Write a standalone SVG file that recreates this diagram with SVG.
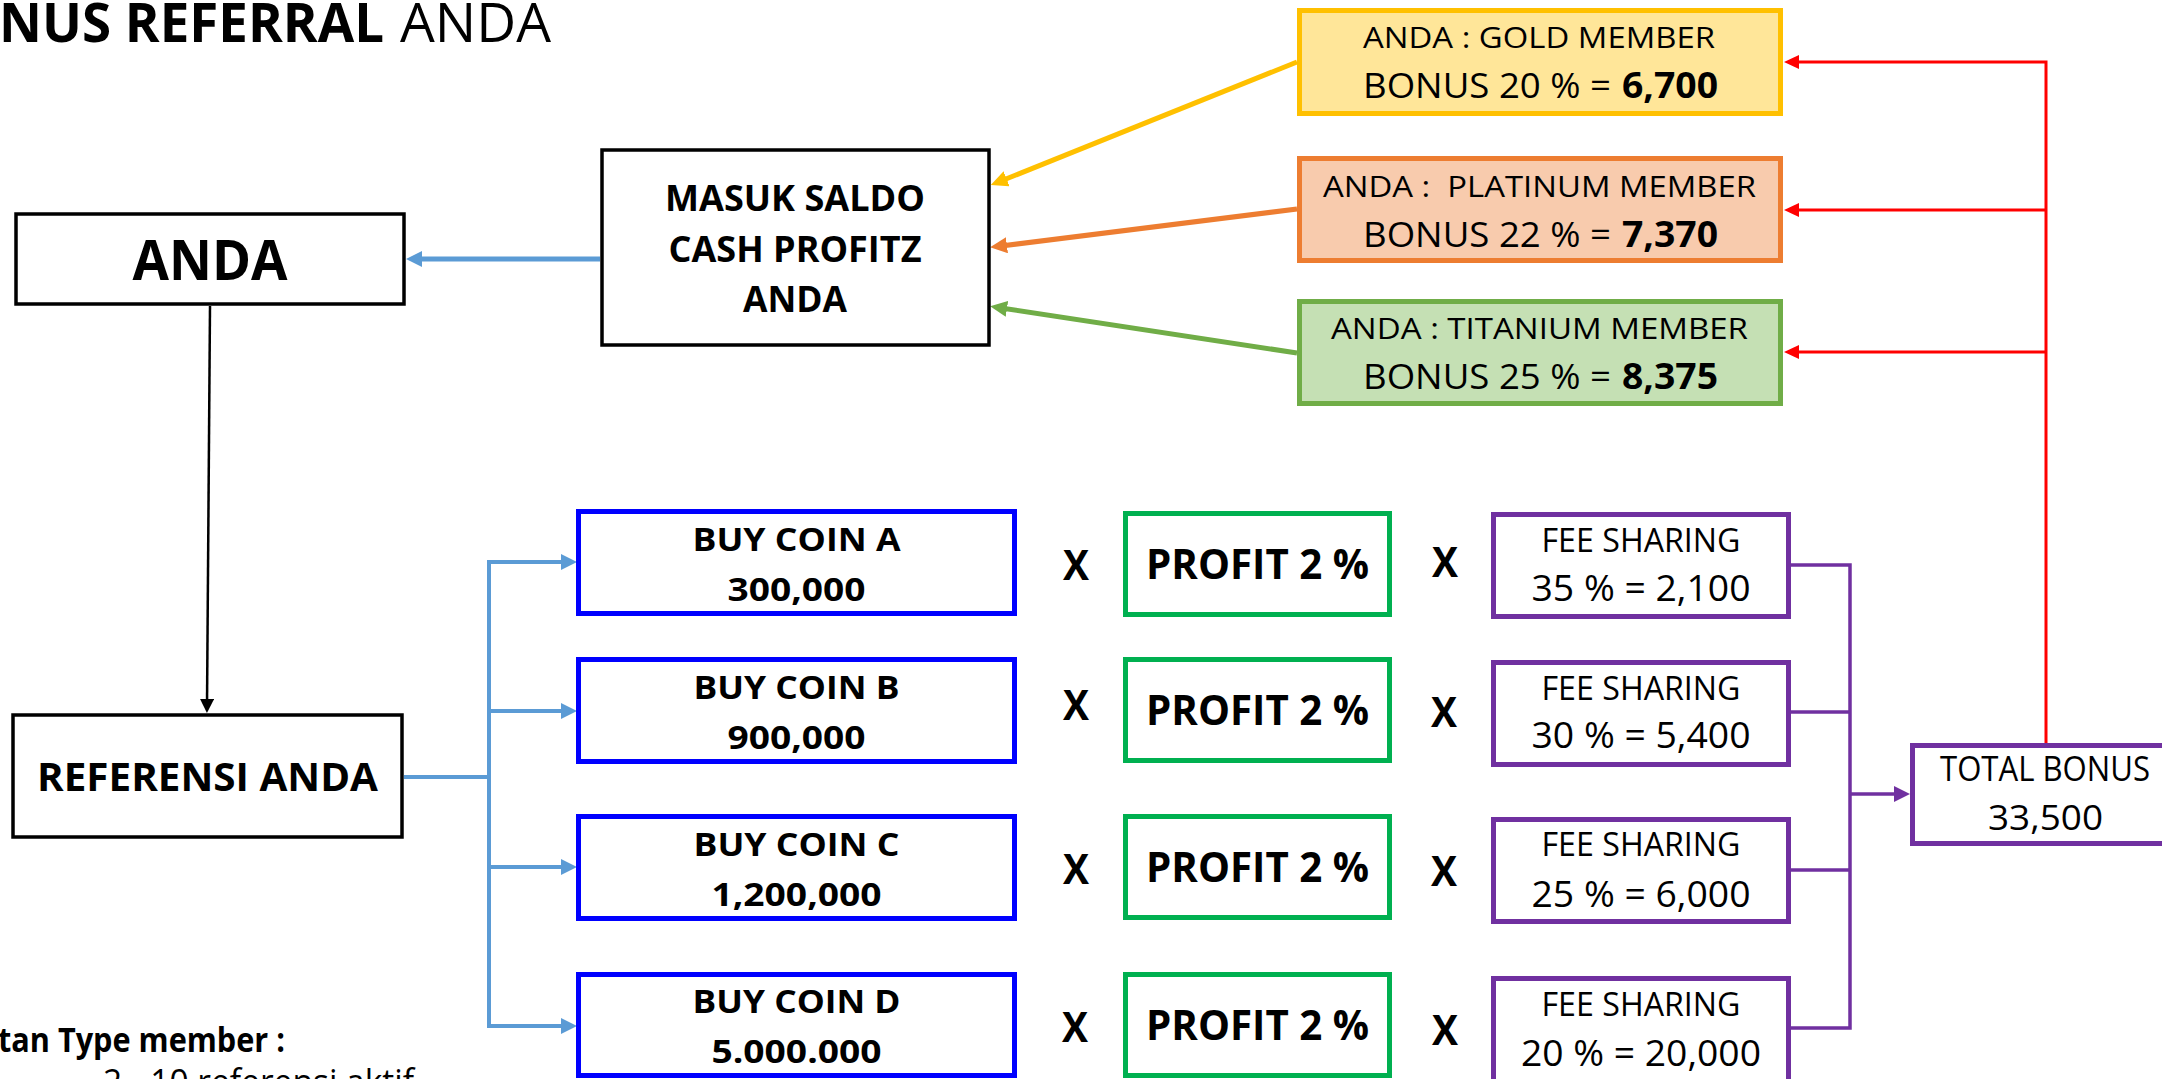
<svg xmlns="http://www.w3.org/2000/svg" width="2162" height="1079" viewBox="0 0 2162 1079">
<style>
text{font-family:"Open Sans","Liberation Sans",sans-serif;fill:#000}
.b{font-weight:700}
.r{font-weight:400}
.m{text-anchor:middle}
.bx{fill:#fff;stroke:#000;stroke-width:3.5}
.coin{fill:#fff;stroke:#0000FF;stroke-width:5}
.prof{fill:#fff;stroke:#00B050;stroke-width:5}
.fee{fill:#fff;stroke:#7030A0;stroke-width:5}
.blue{stroke:#5B9BD5;fill:none}
.red{stroke:#FF0000;stroke-width:3;fill:none}
.pur{stroke:#7030A0;stroke-width:3.5;fill:none}
</style>
<defs>
<marker id="aBlue" markerUnits="userSpaceOnUse" markerWidth="16" markerHeight="18" refX="6" refY="8" orient="auto"><path d="M0,0 L16,8 L0,16 z" fill="#5B9BD5"/></marker>
<marker id="aBlack" markerUnits="userSpaceOnUse" markerWidth="14" markerHeight="16" refX="6" refY="7" orient="auto"><path d="M0,0 L14,7 L0,14 z" fill="#000"/></marker>
<marker id="aRed" markerUnits="userSpaceOnUse" markerWidth="16" markerHeight="16" refX="6" refY="7" orient="auto"><path d="M0,0 L15,7 L0,14 z" fill="#FF0000"/></marker>
<marker id="aPur" markerUnits="userSpaceOnUse" markerWidth="16" markerHeight="18" refX="6" refY="8" orient="auto"><path d="M0,0 L16,8 L0,16 z" fill="#7030A0"/></marker>
<marker id="aYel" markerUnits="userSpaceOnUse" markerWidth="18" markerHeight="18" refX="6" refY="8" orient="auto"><path d="M0,0 L17,8 L0,16 z" fill="#FFC000"/></marker>
<marker id="aOra" markerUnits="userSpaceOnUse" markerWidth="18" markerHeight="18" refX="6" refY="8" orient="auto"><path d="M0,0 L17,8 L0,16 z" fill="#ED7D31"/></marker>
<marker id="aGrn" markerUnits="userSpaceOnUse" markerWidth="18" markerHeight="18" refX="6" refY="8" orient="auto"><path d="M0,0 L17,8 L0,16 z" fill="#70AD47"/></marker>
</defs>

<g id="title">
<text y="42" font-size="54"><tspan class="b" x="-1" textLength="385" lengthAdjust="spacingAndGlyphs">NUS REFERRAL</tspan><tspan class="r" x="400" textLength="151" lengthAdjust="spacingAndGlyphs">ANDA</tspan></text>
</g>

<g id="connectors">
<line class="blue" stroke-width="5" x1="600" y1="259" x2="416" y2="259" marker-end="url(#aBlue)"/>
<line stroke="#000" stroke-width="2.5" x1="210" y1="306" x2="207" y2="705" marker-end="url(#aBlack)"/>
<polyline class="blue" stroke-width="4" points="404,777 489,777"/>
<line class="blue" stroke-width="4" x1="489" y1="560" x2="489" y2="1028"/>
<line class="blue" stroke-width="4" x1="489" y1="562" x2="567" y2="562" marker-end="url(#aBlue)"/>
<line class="blue" stroke-width="4" x1="489" y1="711" x2="567" y2="711" marker-end="url(#aBlue)"/>
<line class="blue" stroke-width="4" x1="489" y1="867" x2="567" y2="867" marker-end="url(#aBlue)"/>
<line class="blue" stroke-width="4" x1="489" y1="1026" x2="567" y2="1026" marker-end="url(#aBlue)"/>
<line stroke="#FFC000" stroke-width="5" x1="1297" y1="62" x2="1001" y2="181" marker-end="url(#aYel)"/>
<line stroke="#ED7D31" stroke-width="5" x1="1297" y1="209" x2="1001" y2="246" marker-end="url(#aOra)"/>
<line stroke="#70AD47" stroke-width="5" x1="1297" y1="353" x2="1001" y2="308" marker-end="url(#aGrn)"/>
<polyline class="red" points="2046,743 2046,62 1793,62" marker-end="url(#aRed)"/>
<line class="red" x1="2046" y1="210" x2="1793" y2="210" marker-end="url(#aRed)"/>
<line class="red" x1="2046" y1="352" x2="1793" y2="352" marker-end="url(#aRed)"/>
<polyline class="pur" points="1791,565 1850,565 1850,1028 1791,1028"/>
<line class="pur" x1="1791" y1="712" x2="1850" y2="712"/>
<line class="pur" x1="1791" y1="870" x2="1850" y2="870"/>
<line class="pur" x1="1850" y1="794" x2="1900" y2="794" marker-end="url(#aPur)"/>
</g>

<g id="anda">
<rect class="bx" x="16" y="214" width="388" height="90"/>
<text class="b m" x="210" y="280" font-size="55" textLength="155" lengthAdjust="spacingAndGlyphs">ANDA</text>
</g>

<g id="masuk">
<rect class="bx" x="602" y="150" width="387" height="195"/>
<text class="b m" x="795" y="211" font-size="36" textLength="260" lengthAdjust="spacingAndGlyphs">MASUK SALDO</text>
<text class="b m" x="795" y="262" font-size="36" textLength="253" lengthAdjust="spacingAndGlyphs">CASH PROFITZ</text>
<text class="b m" x="795" y="312" font-size="36" textLength="104" lengthAdjust="spacingAndGlyphs">ANDA</text>
</g>

<g id="referensi">
<rect class="bx" x="13" y="715" width="389" height="122"/>
<text class="b m" x="207.5" y="791" font-size="39" textLength="341" lengthAdjust="spacingAndGlyphs">REFERENSI ANDA</text>
</g>

<g id="gold">
<rect x="1299.5" y="10.5" width="481" height="103" fill="#FFE699" stroke="#FFC000" stroke-width="5"/>
<text class="r m" x="1539" y="48" font-size="29" textLength="352" lengthAdjust="spacingAndGlyphs">ANDA : GOLD MEMBER</text>
<text y="98" font-size="35"><tspan class="r" x="1363" textLength="248" lengthAdjust="spacingAndGlyphs">BONUS 20 % =</tspan><tspan class="b" x="1622" textLength="96" lengthAdjust="spacingAndGlyphs">6,700</tspan></text>
</g>

<g id="platinum">
<rect x="1299.5" y="158.5" width="481" height="102" fill="#F8CBAD" stroke="#ED7D31" stroke-width="5"/>
<text class="r m" x="1539.5" y="197" font-size="29" textLength="433" lengthAdjust="spacingAndGlyphs" xml:space="preserve">ANDA :  PLATINUM MEMBER</text>
<text y="247" font-size="35"><tspan class="r" x="1363" textLength="248" lengthAdjust="spacingAndGlyphs">BONUS 22 % =</tspan><tspan class="b" x="1622" textLength="96" lengthAdjust="spacingAndGlyphs">7,370</tspan></text>
</g>

<g id="titanium">
<rect x="1299.5" y="301.5" width="481" height="102" fill="#C5E0B4" stroke="#70AD47" stroke-width="5"/>
<text class="r m" x="1539.5" y="339" font-size="29" textLength="417" lengthAdjust="spacingAndGlyphs">ANDA : TITANIUM MEMBER</text>
<text y="389" font-size="35"><tspan class="r" x="1363" textLength="248" lengthAdjust="spacingAndGlyphs">BONUS 25 % =</tspan><tspan class="b" x="1622" textLength="96" lengthAdjust="spacingAndGlyphs">8,375</tspan></text>
</g>

<g id="coinA">
<rect class="coin" x="578.5" y="511.5" width="436" height="102"/>
<text class="b m" x="796.5" y="551" font-size="32" textLength="208" lengthAdjust="spacingAndGlyphs">BUY COIN A</text>
<text class="b m" x="796.5" y="601" font-size="32" textLength="138" lengthAdjust="spacingAndGlyphs">300,000</text>
</g>
<g id="coinB">
<rect class="coin" x="578.5" y="659.5" width="436" height="102"/>
<text class="b m" x="796.5" y="699" font-size="32" textLength="206" lengthAdjust="spacingAndGlyphs">BUY COIN B</text>
<text class="b m" x="796.5" y="749" font-size="32" textLength="138" lengthAdjust="spacingAndGlyphs">900,000</text>
</g>
<g id="coinC">
<rect class="coin" x="578.5" y="816.5" width="436" height="102"/>
<text class="b m" x="796.5" y="856" font-size="32" textLength="206" lengthAdjust="spacingAndGlyphs">BUY COIN C</text>
<text class="b m" x="796.5" y="906" font-size="32" textLength="170" lengthAdjust="spacingAndGlyphs">1,200,000</text>
</g>
<g id="coinD">
<rect class="coin" x="578.5" y="974.5" width="436" height="101"/>
<text class="b m" x="796.5" y="1013" font-size="32" textLength="208" lengthAdjust="spacingAndGlyphs">BUY COIN D</text>
<text class="b m" x="796.5" y="1063" font-size="32" textLength="170" lengthAdjust="spacingAndGlyphs">5.000.000</text>
</g>

<g id="times1">
<text class="b m" x="1076" y="580" font-size="42" textLength="26" lengthAdjust="spacingAndGlyphs">X</text>
<text class="b m" x="1076" y="720" font-size="42" textLength="26" lengthAdjust="spacingAndGlyphs">X</text>
<text class="b m" x="1076" y="884" font-size="42" textLength="26" lengthAdjust="spacingAndGlyphs">X</text>
<text class="b m" x="1075" y="1042" font-size="42" textLength="26" lengthAdjust="spacingAndGlyphs">X</text>
</g>

<g id="profitA">
<rect class="prof" x="1125.5" y="513.5" width="264" height="101"/>
<text class="b m" x="1257.5" y="579" font-size="42" textLength="223" lengthAdjust="spacingAndGlyphs">PROFIT 2 %</text>
</g>
<g id="profitB">
<rect class="prof" x="1125.5" y="659.5" width="264" height="101"/>
<text class="b m" x="1257.5" y="725" font-size="42" textLength="223" lengthAdjust="spacingAndGlyphs">PROFIT 2 %</text>
</g>
<g id="profitC">
<rect class="prof" x="1125.5" y="816.5" width="264" height="101"/>
<text class="b m" x="1257.5" y="882" font-size="42" textLength="223" lengthAdjust="spacingAndGlyphs">PROFIT 2 %</text>
</g>
<g id="profitD">
<rect class="prof" x="1125.5" y="974.5" width="264" height="101"/>
<text class="b m" x="1257.5" y="1040" font-size="42" textLength="223" lengthAdjust="spacingAndGlyphs">PROFIT 2 %</text>
</g>

<g id="times2">
<text class="b m" x="1445" y="577" font-size="42" textLength="26" lengthAdjust="spacingAndGlyphs">X</text>
<text class="b m" x="1444" y="727" font-size="42" textLength="26" lengthAdjust="spacingAndGlyphs">X</text>
<text class="b m" x="1444" y="886" font-size="42" textLength="26" lengthAdjust="spacingAndGlyphs">X</text>
<text class="b m" x="1445" y="1045" font-size="42" textLength="26" lengthAdjust="spacingAndGlyphs">X</text>
</g>

<g id="fee1">
<rect class="fee" x="1493.5" y="514.5" width="295" height="102"/>
<text class="r m" x="1641" y="552" font-size="32" textLength="199" lengthAdjust="spacingAndGlyphs">FEE SHARING</text>
<text class="r m" x="1641" y="601" font-size="36" textLength="219" lengthAdjust="spacingAndGlyphs">35 % = 2,100</text>
</g>
<g id="fee2">
<rect class="fee" x="1493.5" y="662.5" width="295" height="102"/>
<text class="r m" x="1641" y="700" font-size="32" textLength="199" lengthAdjust="spacingAndGlyphs">FEE SHARING</text>
<text class="r m" x="1641" y="748" font-size="36" textLength="219" lengthAdjust="spacingAndGlyphs">30 % = 5,400</text>
</g>
<g id="fee3">
<rect class="fee" x="1493.5" y="819.5" width="295" height="102"/>
<text class="r m" x="1641" y="856" font-size="32" textLength="199" lengthAdjust="spacingAndGlyphs">FEE SHARING</text>
<text class="r m" x="1641" y="907" font-size="36" textLength="219" lengthAdjust="spacingAndGlyphs">25 % = 6,000</text>
</g>
<g id="fee4">
<rect class="fee" x="1493.5" y="978.5" width="295" height="104"/>
<text class="r m" x="1641" y="1016" font-size="32" textLength="199" lengthAdjust="spacingAndGlyphs">FEE SHARING</text>
<text class="r m" x="1641" y="1066" font-size="36" textLength="240" lengthAdjust="spacingAndGlyphs">20 % = 20,000</text>
</g>

<g id="total">
<rect class="fee" x="1912.5" y="745.5" width="267" height="98"/>
<text class="r m" x="2045" y="781" font-size="34" textLength="210" lengthAdjust="spacingAndGlyphs">TOTAL BONUS</text>
<text class="r m" x="2045.5" y="830" font-size="35" textLength="115" lengthAdjust="spacingAndGlyphs">33,500</text>
</g>

<g id="notes">
<text class="b" x="-2" y="1052" font-size="34" textLength="287" lengthAdjust="spacingAndGlyphs">tan Type member :</text>
<text class="r" x="103" y="1094" font-size="34" textLength="311" lengthAdjust="spacingAndGlyphs">2 - 10 referensi aktif</text>
</g>
</svg>
